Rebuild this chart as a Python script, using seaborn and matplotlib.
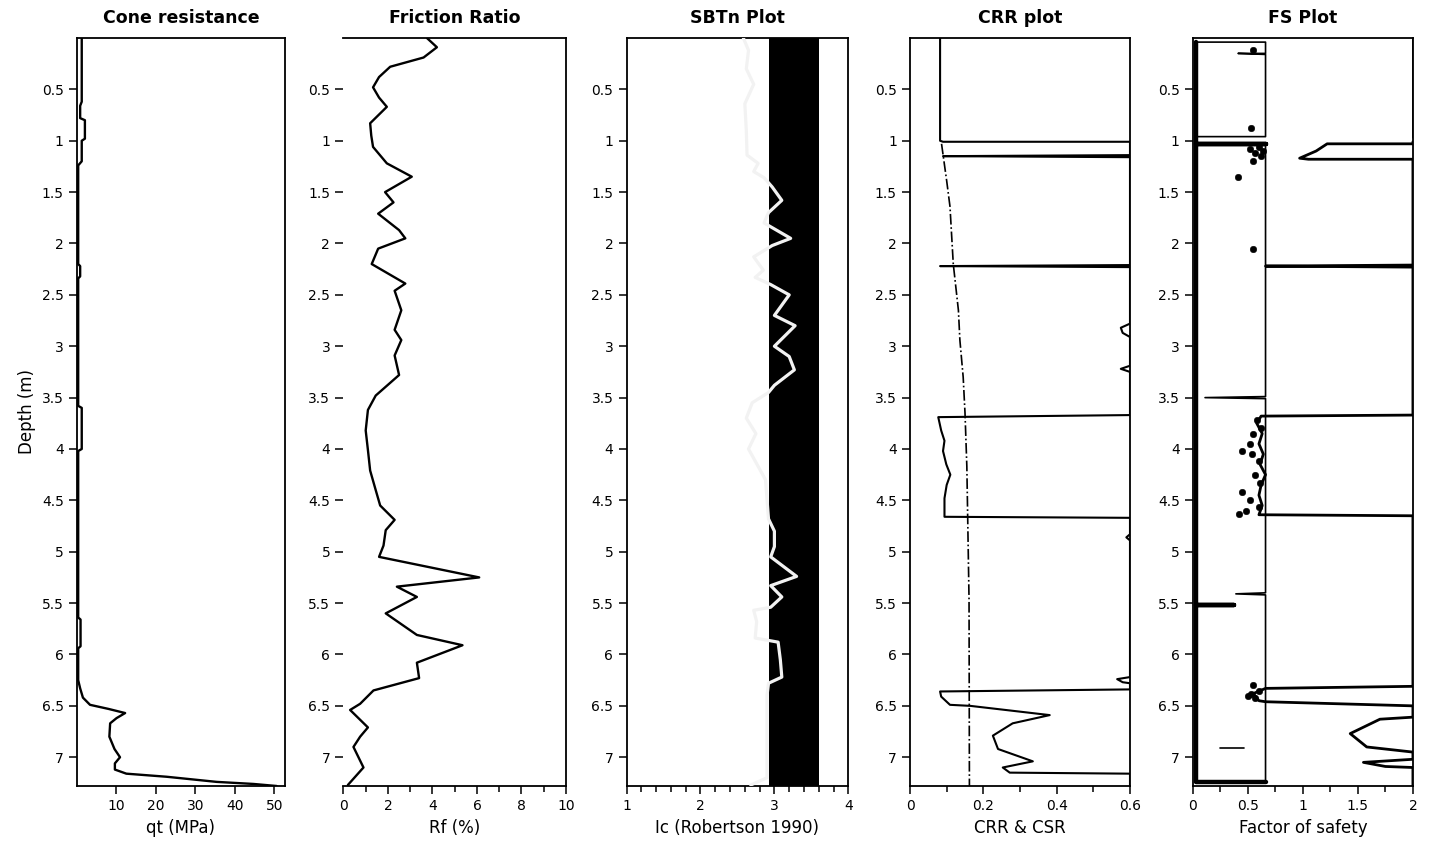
import matplotlib
matplotlib.use("Agg")
import matplotlib.pyplot as plt
from matplotlib.ticker import FixedLocator, MultipleLocator, FuncFormatter
import pandas as pd
import seaborn as sns

sns.set_style("ticks")
plt.rcParams["font.family"] = ["DejaVu Sans"]
for key in ("text.color", "axes.labelcolor", "xtick.color", "ytick.color", "axes.edgecolor"):
    plt.rcParams[key] = "black"

# ---------------- CPT profile data (depth in m) ----------------
qt_depth = [0.00, 0.62, 0.66, 0.78, 0.80, 0.98, 1.00, 1.20, 1.24, 2.20, 2.22, 2.32,
            2.34, 3.58, 3.60, 4.00, 4.02, 5.64, 5.66, 5.92, 5.94, 6.25, 6.33, 6.42,
            6.49, 6.53, 6.57, 6.62, 6.67, 6.80, 6.92, 7.00, 7.06, 7.12, 7.16, 7.19,
            7.24, 7.26, 7.28]
qt_mpa = [1.2, 1.2, 0.8, 0.8, 2.0, 2.0, 1.2, 1.2, 0.3, 0.3, 0.8, 0.8,
          0.3, 0.3, 1.2, 1.2, 0.3, 0.3, 0.9, 0.9, 0.3, 0.3, 0.8, 1.5,
          3.3, 8.0, 12.2, 10.0, 8.4, 8.2, 9.5, 10.9, 9.6, 9.6, 12.5, 22.7,
          35.4, 44.7, 50.6]

rf_depth = [0.00, 0.09, 0.19, 0.28, 0.38, 0.48, 0.58, 0.67, 0.83, 0.95, 1.06, 1.22,
            1.35, 1.50, 1.60, 1.71, 1.87, 1.95, 2.05, 2.20, 2.39, 2.46, 2.65, 2.84,
            2.94, 3.09, 3.28, 3.48, 3.62, 3.82, 4.01, 4.21, 4.40, 4.55, 4.69, 4.79,
            4.94, 5.05, 5.25, 5.34, 5.44, 5.60, 5.81, 5.91, 6.08, 6.23, 6.35, 6.48,
            6.54, 6.71, 6.80, 6.90, 7.10, 7.27]
rf_pct = [3.75, 4.2, 3.6, 2.1, 1.6, 1.33, 1.6, 1.95, 1.2, 1.25, 1.33, 1.95,
          3.07, 1.87, 2.25, 1.56, 2.5, 2.78, 1.56, 1.27, 2.78, 2.3, 2.6, 2.3,
          2.6, 2.3, 2.5, 1.45, 1.1, 1.0, 1.1, 1.2, 1.45, 1.65, 2.3, 1.9,
          1.8, 1.6, 6.1, 2.4, 3.3, 1.9, 3.3, 5.35, 3.3, 3.4, 1.35, 0.75,
          0.3, 1.1, 0.75, 0.45, 0.9, 0.2]

ic_depth = [0.00, 0.12, 0.30, 0.45, 0.64, 0.90, 1.14, 1.22, 1.30, 1.36, 1.45, 1.58,
            1.70, 1.80, 1.95, 2.02, 2.13, 2.26, 2.33, 2.40, 2.50, 2.70, 2.80, 3.00,
            3.10, 3.23, 3.38, 3.45, 3.55, 3.70, 3.85, 4.00, 4.30, 4.68, 4.80, 4.95,
            5.05, 5.24, 5.33, 5.44, 5.54, 5.57, 5.68, 5.84, 5.88, 6.05, 6.22, 6.28,
            6.40, 7.20, 7.27]
ic_val = [2.58, 2.65, 2.62, 2.72, 2.60, 2.62, 2.63, 2.78, 2.72, 2.86, 2.97, 3.10,
          2.92, 2.86, 3.22, 2.97, 2.72, 2.85, 2.74, 2.95, 3.20, 3.00, 3.28, 3.00,
          3.20, 3.27, 3.00, 2.92, 2.70, 2.62, 2.75, 2.65, 2.88, 2.92, 3.00, 3.00,
          2.95, 3.30, 2.95, 3.10, 2.95, 2.72, 2.76, 2.74, 3.05, 3.08, 3.10, 2.92,
          2.90, 2.90, 2.68]
sbt_clay_zone = (2.93, 3.60)

crr_depth = [0.00, 1.00, 1.01, 1.01, 1.14, 1.15, 1.16, 2.21, 2.22, 2.23, 2.78, 2.82,
             2.87, 2.91, 3.19, 3.22, 3.25, 3.67, 3.69, 3.82, 3.92, 4.02, 4.15, 4.25,
             4.35, 4.48, 4.66, 4.67, 4.83, 4.86, 4.89, 6.22, 6.24, 6.27, 6.28, 6.34,
             6.36, 6.41, 6.49, 6.50, 6.59, 6.67, 6.79, 6.92, 7.04, 7.10, 7.15, 7.16,
             7.28]
crr_val = [0.082, 0.082, 0.09, 0.60, 0.60, 0.09, 0.60, 0.60, 0.082, 0.60, 0.60, 0.575,
           0.58, 0.60, 0.60, 0.575, 0.60, 0.60, 0.077, 0.085, 0.094, 0.09, 0.099, 0.11,
           0.10, 0.094, 0.094, 0.60, 0.60, 0.59, 0.60, 0.60, 0.565, 0.58, 0.60, 0.60,
           0.082, 0.085, 0.109, 0.164, 0.381, 0.28, 0.226, 0.24, 0.335, 0.253, 0.272, 0.60,
           0.60]

csr_depth = [1.03, 1.39, 1.64, 2.20, 2.65, 2.94, 3.30, 3.65, 4.17, 4.60, 5.47, 7.28]
csr_val = [0.086, 0.100, 0.109, 0.118, 0.132, 0.136, 0.145, 0.150, 0.155, 0.157, 0.161, 0.162]

# factor of safety profile (capped at 2)
fs_depth = [0.00, 0.96, 1.01, 1.03, 1.03, 1.10, 1.17, 1.18, 1.18, 2.21, 2.22, 2.23,
            3.67, 3.68, 3.75, 3.85, 3.95, 4.05, 4.15, 4.25, 4.35, 4.45, 4.55, 4.64,
            4.65, 6.31, 6.33, 6.38, 6.45, 6.46, 6.50, 6.61, 6.63, 6.77, 6.90, 6.95,
            7.02, 7.05, 7.09, 7.10, 7.28]
fs_val = [2.0, 2.0, 2.0, 2.0, 1.22, 1.12, 0.97, 1.05, 2.0, 2.0, 0.66, 2.0,
          2.0, 0.62, 0.58, 0.63, 0.60, 0.64, 0.61, 0.66, 0.62, 0.60, 0.63, 0.60,
          2.0, 2.0, 0.66, 0.55, 0.60, 0.66, 2.0, 2.0, 1.70, 1.43, 1.58, 2.0,
          2.0, 1.55, 1.75, 2.0, 2.0]
fs_seg = [0, 0] + [1] * 39

# bounding profile of the liquefiable column
fs_col_depth = [0.04, 0.04, 0.15, 0.15, 0.16, 0.96, 0.96,
                1.03, 3.49, 3.50, 3.51, 5.40, 5.41, 5.42, 7.24,
                6.91, 6.91]
fs_col_val = [0.03, 0.66, 0.66, 0.41, 0.66, 0.66, 0.03,
              0.66, 0.66, 0.11, 0.66, 0.66, 0.39, 0.66, 0.66,
              0.25, 0.46]
fs_col_seg = [0] * 7 + [1] * 8 + [2] * 2

fs_floor_depth = [0.04, 1.03, 1.03, 1.03, 5.52, 5.52, 5.52, 7.24, 7.24]
fs_floor_val = [0.03, 0.03, 0.66, 0.03, 0.03, 0.37, 0.03, 0.03, 0.66]

fs_pts_depth = [0.12, 0.88, 1.06, 1.08, 1.10, 1.12, 1.15, 1.20, 1.35, 2.05,
                3.72, 3.80, 3.85, 3.95, 4.02, 4.05, 4.12, 4.25, 4.33, 4.42,
                4.50, 4.56, 4.60, 4.63, 6.30, 6.36, 6.38, 6.40, 6.42]
fs_pts_val = [0.55, 0.53, 0.60, 0.52, 0.64, 0.56, 0.62, 0.55, 0.41, 0.55,
              0.58, 0.62, 0.55, 0.52, 0.45, 0.54, 0.60, 0.56, 0.61, 0.45,
              0.52, 0.60, 0.48, 0.42, 0.55, 0.60, 0.53, 0.50, 0.56]

depth_ticks = [0.5, 1, 1.5, 2, 2.5, 3, 3.5, 4, 4.5, 5, 5.5, 6, 6.5, 7]
depth_limits = (7.28, 0.0)

qt_ticks = [10, 20, 30, 40, 50]
rf_ticks = [0, 2, 4, 6, 8, 10]
ic_ticks = [1, 2, 3, 4]
crr_ticks = [0, 0.2, 0.4, 0.6]
fs_ticks = [0, 0.5, 1, 1.5, 2]

titles = ["Cone resistance", "Friction Ratio", "SBTn Plot", "CRR plot", "FS Plot"]
xlabels = ["qt (MPa)", "Rf (%)", "Ic (Robertson 1990)", "CRR & CSR", "Factor of safety"]

# ---------------- figure ----------------
fig = plt.figure(figsize=(14.34, 8.5), dpi=100)
bottom, height = 0.0753, 0.8800
lefts = [0.0537, 0.2395, 0.4369, 0.6346, 0.8319]
widths = [0.1450, 0.1552, 0.1547, 0.1534, 0.1534]
axes = [fig.add_axes([l, bottom, w, height]) for l, w in zip(lefts, widths)]

fmt = FuncFormatter(lambda v, p: f"{v:g}")
ink = "black"

for ax, title in zip(axes, titles):
    ax.set_ylim(*depth_limits)
    ax.yaxis.set_major_locator(FixedLocator(depth_ticks))
    ax.yaxis.set_major_formatter(fmt)
    ax.xaxis.set_major_formatter(fmt)
    ax.set_title(title, fontsize=12.5, fontweight="bold", pad=11, color=ink)
    ax.tick_params(axis="both", which="major", labelsize=10, length=6, width=1.1,
                   color=ink, labelcolor=ink, direction="out")
    ax.tick_params(axis="x", which="minor", length=4, width=1.1, color=ink)
    for s in ax.spines.values():
        s.set_color(ink)
        s.set_linewidth(1.3)
        s.set_visible(True)

# Cone resistance
ax = axes[0]
sns.lineplot(x=qt_mpa, y=qt_depth, sort=False, estimator=None, color=ink, lw=1.7, ax=ax)
ax.set_xlim(0, 52.7)
ax.xaxis.set_major_locator(FixedLocator(qt_ticks))

# Friction ratio
ax = axes[1]
sns.lineplot(x=rf_pct, y=rf_depth, sort=False, estimator=None, color=ink, lw=1.7, ax=ax)
ax.set_xlim(0, 10)
ax.xaxis.set_major_locator(FixedLocator(rf_ticks))
ax.xaxis.set_minor_locator(MultipleLocator(1))
ax.spines["left"].set_visible(False)

# SBTn
ax = axes[2]
ax.axvspan(sbt_clay_zone[0], sbt_clay_zone[1], color=ink, lw=0, zorder=1)
sns.lineplot(x=ic_val, y=ic_depth, sort=False, estimator=None, color="#f2f2f2", lw=2.3,
             ax=ax, zorder=3)
ax.set_xlim(1, 4)
ax.xaxis.set_major_locator(FixedLocator(ic_ticks))
ax.xaxis.set_minor_locator(MultipleLocator(0.2))

# CRR / CSR
ax = axes[3]
sns.lineplot(x=crr_val, y=crr_depth, sort=False, estimator=None, color=ink, lw=1.5, ax=ax)
sns.lineplot(x=csr_val, y=csr_depth, sort=False, estimator=None, color=ink, lw=1.2,
             linestyle="-.", ax=ax)
ax.set_xlim(0, 0.6)
ax.xaxis.set_major_locator(FixedLocator(crr_ticks))
ax.xaxis.set_minor_locator(MultipleLocator(0.1))

# Factor of safety
ax = axes[4]
fs_df = pd.DataFrame({"depth": fs_depth, "fs": fs_val, "seg": fs_seg})
col_df = pd.DataFrame({"depth": fs_col_depth, "fs": fs_col_val, "seg": fs_col_seg})
sns.lineplot(data=fs_df, x="fs", y="depth", units="seg", estimator=None, sort=False,
             color=ink, lw=2.0, ax=ax)
sns.lineplot(data=col_df, x="fs", y="depth", units="seg", estimator=None, sort=False,
             color=ink, lw=1.2, ax=ax)
sns.lineplot(x=fs_floor_val, y=fs_floor_depth, sort=False, estimator=None, color=ink,
             lw=3.2, ax=ax)
sns.scatterplot(x=fs_pts_val, y=fs_pts_depth, color=ink, s=22, marker="o",
                edgecolor=None, ax=ax)
ax.set_xlim(0, 2)
ax.xaxis.set_major_locator(FixedLocator(fs_ticks))
ax.xaxis.set_minor_locator(MultipleLocator(0.25))

for ax, xl in zip(axes, xlabels):
    ax.set_ylim(*depth_limits)
    ax.set_xlabel(xl, fontsize=12, labelpad=4, color=ink)
    ax.set_ylabel("")
axes[0].set_ylabel("Depth (m)", fontsize=12, color=ink)

fig.savefig("out.png", dpi=100, facecolor="white")
